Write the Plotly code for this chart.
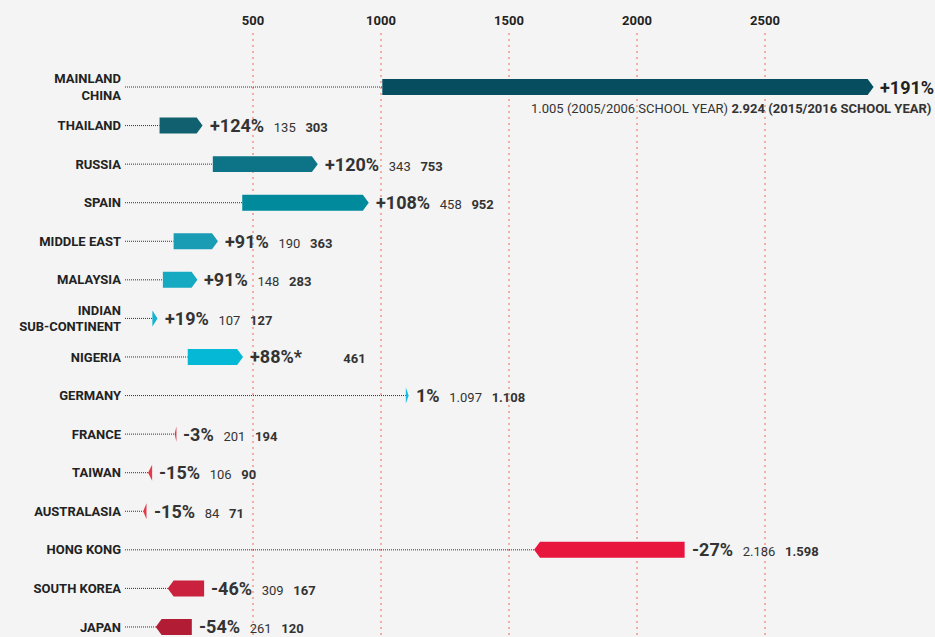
import plotly.graph_objects as go

# ---------------- data ----------------
region_labels = ["MAINLAND<br>CHINA", "THAILAND", "RUSSIA", "SPAIN", "MIDDLE EAST",
                 "MALAYSIA", "INDIAN<br>SUB-CONTINENT", "NIGERIA", "GERMANY", "FRANCE",
                 "TAIWAN", "AUSTRALASIA", "HONG KONG", "SOUTH KOREA", "JAPAN"]
students_2005 = [1005, 135, 343, 458, 190, 148, 107, 245, 1097, 201, 106, 84, 2186, 309, 261]
students_2015 = [2924, 303, 753, 952, 363, 283, 127, 461, 1108, 194, 90, 71, 1598, 167, 120]
show_2005 = [True, True, True, True, True, True, True, False, True, True, True, True, True, True, True]
change_labels = ["+191%", "+124%", "+120%", "+108%", "+91%", "+91%", "+19%", "+88%*", "1%",
                 "-3%", "-15%", "-15%", "-27%", "-46%", "-54%"]
colors = ["#064e5f", "#10606f", "#0d7386", "#018a9b", "#1a9db4", "#16a9c2", "#12b4d0",
          "#05b8d5", "#14bde0", "#d83a4c", "#e63a4b", "#e4384a", "#e8163d", "#c9213e", "#b31c35"]
tick_vals = [500, 1000, 1500, 2000, 2500]
note_2005 = "(2005/2006 SCHOOL YEAR)"
note_2015 = "(2015/2016 SCHOOL YEAR)"

FONT = "Roboto"
HALF = 0.207   # half bar thickness in row units
TIP = 23       # arrow tip length in data units
Y_TOP, Y_BOT = -1.4, 14.26


def eu(v):
    return f"{v:,}".replace(",", ".")


fig = go.Figure()
n = len(region_labels)

# dotted salmon grid lines at the tick values
for v in tick_vals:
    fig.add_trace(go.Scatter(x=[v, v], y=[Y_TOP, Y_BOT + 1], mode="lines",
                             line=dict(color="#f2684f", width=1, dash="2px,4px"),
                             hoverinfo="skip", showlegend=False))

for i in range(n):
    a, b = students_2005[i], students_2015[i]
    lo = min(a, b)
    # dotted connector from the axis to the bar
    fig.add_trace(go.Scatter(x=[0, lo], y=[i, i], mode="lines",
                             line=dict(color="#333333", width=1, dash="1px,1px"),
                             hoverinfo="skip", showlegend=False))
    d = 1 if b >= a else -1
    tip = min(TIP, abs(b - a))
    body = b - d * tip
    xs = [a, body, b, body, a, a]
    ys = [i - HALF, i - HALF, i, i + HALF, i + HALF, i - HALF]
    fig.add_trace(go.Scatter(x=xs, y=ys, mode="lines", fill="toself",
                             fillcolor=colors[i], line=dict(width=0, color=colors[i]),
                             hoverinfo="skip", showlegend=False))
    hi = max(a, b)
    if i == 0:
        txt = f"<b>{change_labels[i]}</b>"
        fig.add_annotation(x=hi, y=i, xref="x", yref="y", text=txt, showarrow=False,
                           xanchor="left", yanchor="middle", xshift=4,
                           font=dict(family=FONT, size=18, color="#222222"))
        fig.add_annotation(x=1, y=i, xref="paper", yref="y",
                           text=f"{eu(a)} {note_2005} <b>{eu(b)} {note_2015}</b>",
                           showarrow=False, xanchor="right", yanchor="middle",
                           yshift=-21, xshift=-2,
                           font=dict(family=FONT, size=13, color="#333333"))
    else:
        old = eu(a) if show_2005[i] else f"<span style='color:rgba(0,0,0,0)'>{eu(a)}</span>"
        sp = "\u00a0" * 3
        txt = (f"<span style='font-size:18px'><b>{change_labels[i]}</b></span>{sp}"
               f"{old}{sp}<b>{eu(b)}</b>")
        fig.add_annotation(x=hi, y=i, xref="x", yref="y", text=txt, showarrow=False,
                           xanchor="left", yanchor="middle", xshift=5,
                           font=dict(family=FONT, size=13, color="#333333"))

fig.update_layout(
    width=935, height=637,
    margin=dict(l=125, r=0, t=33, b=0),
    paper_bgcolor="#f4f4f4", plot_bgcolor="#f4f4f4",
    font=dict(family=FONT, color="#222222"),
    showlegend=False,
    xaxis=dict(range=[0, 3164], side="top", tickvals=tick_vals,
               ticktext=[f"<b>{v}</b>" for v in tick_vals],
               tickfont=dict(family=FONT, size=13, color="#222222"),
               showgrid=False, zeroline=False, showline=False, ticks="",
               ticklabelstandoff=4),
    yaxis=dict(range=[Y_BOT, Y_TOP], tickvals=list(range(n)),
               ticktext=[f"<b>{t}</b>" for t in region_labels],
               tickfont=dict(family=FONT, size=13, color="#222222"),
               showgrid=False, zeroline=False, showline=False, ticks="",
               ticklabelstandoff=3),
)

fig.write_html("out.html", config={"displayModeBar": False},
               post_script="document.body.style.margin='0';document.body.style.overflow='hidden';")
